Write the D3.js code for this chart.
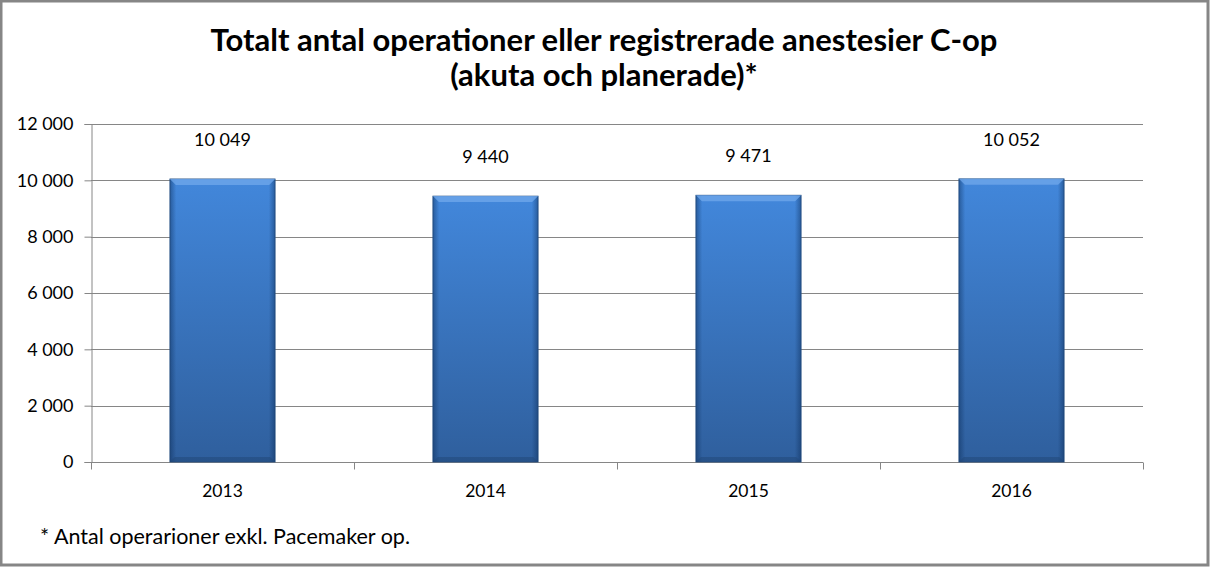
<!DOCTYPE html>
<html lang="sv">
<head>
<meta charset="utf-8">
<title>Totalt antal operationer C-op</title>
<script src="https://cdn.jsdelivr.net/npm/d3@7"></script>
<style>
  html, body { margin: 0; padding: 0; background: #fff; }
  svg { display: block; font-family: Lato, "Liberation Sans", sans-serif; }
</style>
</head>
<body>
<div id="chart"></div>
<script>
// data
var years = ["2013", "2014", "2015", "2016"];
var counts = [10049, 9440, 9471, 10052];
var yTicks = [0, 2000, 4000, 6000, 8000, 10000, 12000];

var W = 1210, H = 567;
var m = {left: 91, right: 67, top: 124, bottom: 105};

var sv = d3.formatLocale({decimal: ",", thousands: "\u00a0", grouping: [3], currency: ["", " kr"]});
var fmt = sv.format(",d");

var svg = d3.select("#chart").append("svg")
  .attr("width", W).attr("height", H);

var defs = svg.append("defs");
var g1 = defs.append("linearGradient").attr("id", "barFill")
  .attr("x1", 0).attr("y1", 0).attr("x2", 0).attr("y2", 1);
g1.append("stop").attr("offset", "0%").attr("stop-color", "#4287db");
g1.append("stop").attr("offset", "100%").attr("stop-color", "#2f5f9d");
var g2 = defs.append("linearGradient").attr("id", "barEdge")
  .attr("x1", 0).attr("y1", 0).attr("x2", 1).attr("y2", 0);
g2.append("stop").attr("offset", "0%").attr("stop-color", "#0a2a55").attr("stop-opacity", 0.45);
g2.append("stop").attr("offset", "6%").attr("stop-color", "#0a2a55").attr("stop-opacity", 0);
g2.append("stop").attr("offset", "94%").attr("stop-color", "#0a2a55").attr("stop-opacity", 0);
g2.append("stop").attr("offset", "100%").attr("stop-color", "#0a2a55").attr("stop-opacity", 0.45);

// outer frame
svg.append("rect").attr("x", 1).attr("y", 1).attr("width", W - 3).attr("height", H - 3)
  .attr("fill", "#fff").attr("stroke", "#868686").attr("stroke-width", 3);

var x = d3.scaleBand().domain(years)
  .range([m.left, W - m.right])
  .paddingInner(0.6).paddingOuter(0.3);
var y = d3.scaleLinear().domain([0, 12000]).range([H - m.bottom, m.top]);

// gridlines
svg.append("g").selectAll("line").data(yTicks.filter(function(d) { return d > 0; }))
  .enter().append("line")
  .attr("x1", m.left).attr("x2", W - m.right)
  .attr("y1", function(d) { return Math.round(y(d)) + 0.5; })
  .attr("y2", function(d) { return Math.round(y(d)) + 0.5; })
  .attr("stroke", "#868686").attr("stroke-width", 1);

// y axis
var yAxis = svg.append("g")
  .attr("transform", "translate(" + (m.left + 0.5) + ",0)")
  .call(d3.axisLeft(y).tickValues(yTicks).tickFormat(fmt).tickSize(7).tickPadding(11));
yAxis.selectAll("path, line").attr("stroke", "#868686");
yAxis.selectAll("text").attr("font-size", "18px").attr("fill", "#000")
  .attr("font-family", "Lato, 'Liberation Sans', sans-serif");

// x axis with ticks at category boundaries
var xAxisG = svg.append("g").attr("transform", "translate(0," + (Math.round(y(0)) + 0.5) + ")");
xAxisG.append("line").attr("x1", m.left).attr("x2", W - m.right)
  .attr("stroke", "#868686");
var step = x.step();
var bounds = d3.range(years.length + 1).map(function(i) { return m.left + i * step; });
xAxisG.selectAll("line.tk").data(bounds).enter().append("line")
  .attr("class", "tk")
  .attr("x1", function(d) { return Math.round(d) + 0.5; })
  .attr("x2", function(d) { return Math.round(d) + 0.5; })
  .attr("y1", 0).attr("y2", 7).attr("stroke", "#868686");
xAxisG.selectAll("text").data(years).enter().append("text")
  .attr("x", function(d) { return x(d) + x.bandwidth() / 2; })
  .attr("y", 34).attr("text-anchor", "middle")
  .attr("font-size", "17.5px").attr("fill", "#000")
  .text(function(d) { return d; });

// bars
var bars = svg.append("g").selectAll("g").data(years).enter().append("g");
bars.append("rect")
  .attr("x", function(d) { return x(d); })
  .attr("y", function(d, i) { return y(counts[i]); })
  .attr("width", x.bandwidth())
  .attr("height", function(d, i) { return y(0) - y(counts[i]); })
  .attr("fill", "url(#barFill)")
  .attr("stroke", "#2a5283").attr("stroke-width", 0.8);
bars.append("rect")
  .attr("x", function(d) { return x(d); })
  .attr("y", function(d, i) { return y(counts[i]); })
  .attr("width", x.bandwidth())
  .attr("height", function(d, i) { return y(0) - y(counts[i]); })
  .attr("fill", "url(#barEdge)");
// top bevel
bars.append("path")
  .attr("d", function(d, i) {
    var x0 = x(d), x1 = x(d) + x.bandwidth(), t = y(counts[i]);
    return "M" + x0 + "," + t + "L" + x1 + "," + t + "L" + (x1 - 6) + "," + (t + 6) + "L" + (x0 + 6) + "," + (t + 6) + "Z";
  })
  .attr("fill", "#6ea6ea").attr("opacity", 0.8);
// bottom bevel
bars.append("path")
  .attr("d", function(d) {
    var x0 = x(d), x1 = x(d) + x.bandwidth(), b = y(0);
    return "M" + x0 + "," + b + "L" + x1 + "," + b + "L" + (x1 - 5) + "," + (b - 5) + "L" + (x0 + 5) + "," + (b - 5) + "Z";
  })
  .attr("fill", "#1f4575").attr("opacity", 0.5);

// value labels
svg.append("g").selectAll("text").data(years).enter().append("text")
  .attr("x", function(d) { return x(d) + x.bandwidth() / 2; })
  .attr("y", function(d, i) { return y(counts[i]) - 33; })
  .attr("text-anchor", "middle").attr("font-size", "18px").attr("fill", "#000")
  .text(function(d, i) { return fmt(counts[i]); });

// title
var title = svg.append("text").attr("text-anchor", "middle")
  .attr("font-size", "31px").attr("font-weight", "bold").attr("fill", "#000");
title.append("tspan").attr("x", 604).attr("y", 51)
  .text("Totalt antal operationer eller registrerade anestesier C-op");
title.append("tspan").attr("x", 604).attr("y", 86)
  .text("(akuta och planerade)*");

// footnote
svg.append("text").attr("x", 40).attr("y", 544)
  .attr("font-size", "21.5px").attr("fill", "#000")
  .text("* Antal operarioner exkl. Pacemaker op.");
</script>
</body>
</html>
